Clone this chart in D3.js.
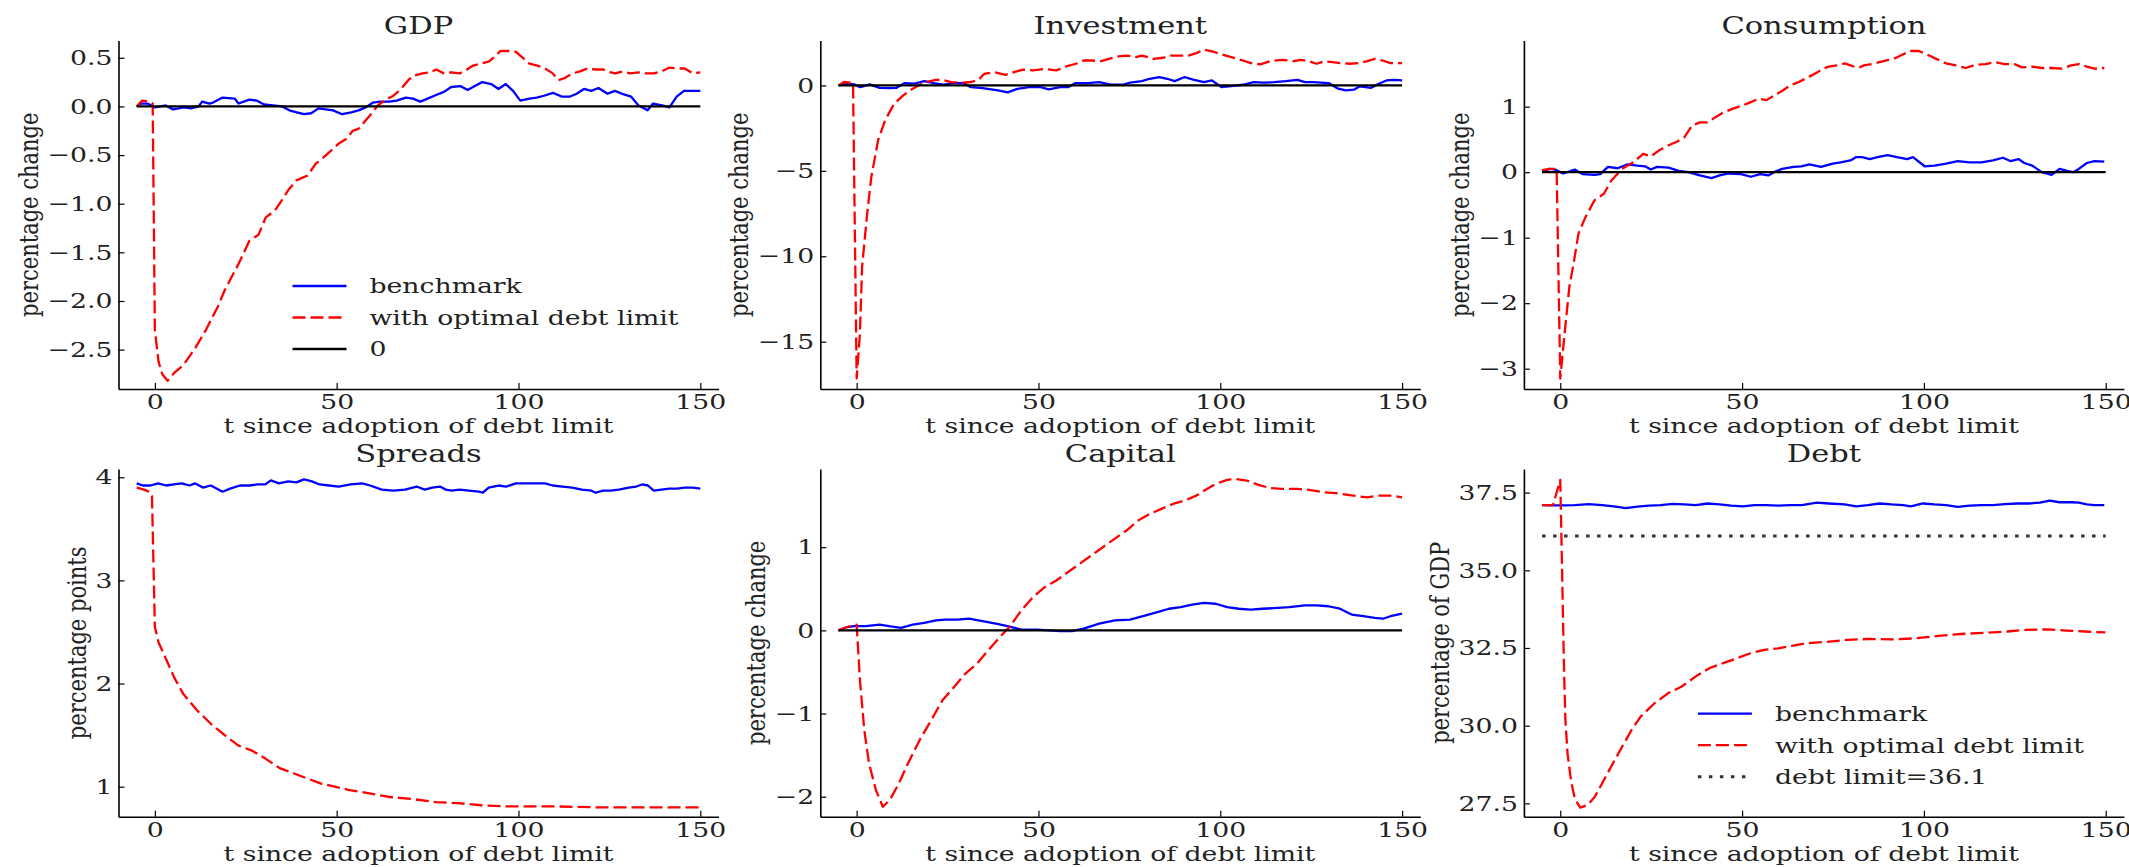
<!DOCTYPE html>
<html>
<head>
<meta charset="utf-8">
<title>Debt limit impulse responses</title>
<script src="https://cdn.jsdelivr.net/npm/d3@7"></script>
<style>
  body { margin: 0; background: #fff; }
  svg { display: block; }
</style>
</head>
<body>
<div id="chart"></div>
<script>
// values, as [t, value]
const xTicks = [0, 50, 100, 150];
const tSpan = [-5, 150];
const debtLimit = 36.1;

const gdpBenchmark = [[-5,0],[-4,0.03],[-2,0.03],[0,-0.01],[3,0.01],[5,-0.03],[8,-0.01],[10,-0.02],[12,0],[13,0.05],[15,0.03],[16,0.04],[18.5,0.09],[22,0.08],[23,0.03],[26,0.07],[28,0.06],[30,0.02],[32.5,0.01],[35,0],[37,-0.04],[39,-0.06],[41,-0.08],[43,-0.07],[45,-0.02],[47,-0.03],[49,-0.04],[51.5,-0.08],[54,-0.06],[56,-0.04],[58,-0.01],[60,0.04],[62,0.05],[64.5,0.05],[66.5,0.06],[69,0.09],[71,0.08],[73,0.05],[75,0.08],[77.5,0.12],[79.5,0.15],[81.5,0.2],[84,0.21],[86,0.17],[88,0.21],[90,0.25],[92.5,0.23],[94.5,0.18],[96.5,0.23],[98.5,0.16],[100.5,0.06],[103,0.08],[105,0.09],[107,0.11],[109.5,0.14],[112,0.1],[114,0.1],[116,0.13],[118,0.18],[120,0.16],[122,0.19],[124.5,0.13],[126.5,0.16],[128.5,0.13],[131,0.1],[133,0.01],[135.5,-0.04],[137,0.03],[139.5,0.01],[141.5,-0.01],[143.5,0.1],[145.5,0.16],[150,0.16]];
const gdpOptimal = [[-5,0],[-3.5,0.06],[-1.5,0.05],[-0.6,0.03],[0,-2.3],[1,-2.62],[2,-2.75],[3.5,-2.82],[5.3,-2.74],[7.8,-2.66],[11,-2.49],[14,-2.3],[17.3,-2.06],[19.2,-1.89],[23,-1.62],[26,-1.38],[28.5,-1.32],[30.5,-1.14],[33,-1.07],[35,-0.96],[36.7,-0.86],[38.9,-0.76],[42,-0.71],[44.2,-0.59],[47.4,-0.49],[50.6,-0.38],[52.8,-0.33],[54.4,-0.25],[56,-0.23],[57.6,-0.16],[59.2,-0.09],[61.3,0.01],[63.5,0.07],[65.6,0.11],[67.7,0.18],[69.9,0.28],[71.5,0.32],[73.6,0.34],[75.7,0.35],[77.4,0.38],[79.5,0.34],[81.6,0.35],[83.8,0.34],[85.4,0.37],[87.5,0.42],[89.6,0.44],[91.8,0.46],[93.4,0.51],[95,0.57],[97.7,0.57],[99.3,0.56],[100.9,0.51],[103,0.44],[105.2,0.42],[107.3,0.39],[109.4,0.34],[111,0.27],[112.6,0.29],[114.8,0.34],[116.9,0.36],[119,0.39],[121.2,0.38],[123.3,0.38],[125.4,0.35],[126.5,0.34],[128.6,0.36],[130.8,0.34],[132.9,0.35],[135,0.34],[137.2,0.34],[139.3,0.36],[141.5,0.4],[143.6,0.39],[145.7,0.39],[147.9,0.34],[150,0.35]];

const investmentBenchmark = [[-5,0],[-2.8,0.1],[-0.7,0.06],[1,-0.1],[3.6,0.06],[6.3,-0.14],[9,-0.16],[11,-0.14],[13.2,0.14],[15.9,0.1],[18.6,0.25],[21.2,0.14],[23.9,0.04],[26.6,0.14],[29.3,0.14],[31.4,-0.1],[34.6,-0.16],[38.9,-0.29],[41.5,-0.41],[44.2,-0.2],[47.4,-0.1],[50.6,-0.1],[52.8,-0.23],[56,-0.1],[58.1,-0.1],[60.2,0.14],[63.5,0.14],[66.7,0.19],[69.9,0.04],[73.1,0.04],[75.2,0.16],[78.4,0.25],[80.6,0.39],[83.2,0.49],[85.4,0.39],[87.5,0.25],[90.2,0.49],[92.8,0.33],[95.5,0.19],[97.7,0.29],[100.3,-0.1],[103,-0.04],[106.2,0.04],[109.2,0.19],[111.9,0.16],[114.8,0.19],[118,0.25],[121.2,0.33],[123.3,0.19],[125.4,0.19],[127.6,0.16],[129.8,0.14],[132.4,-0.19],[134.5,-0.29],[136.7,-0.25],[138.3,-0.06],[141.5,-0.14],[143.6,0.1],[145.7,0.29],[147.9,0.33],[150,0.29]];
const investmentOptimal = [[-5,0],[-3.5,0.2],[-1,0.14],[0,-17.15],[0.9,-14.5],[1.5,-10.6],[2.8,-7.7],[4,-5.4],[5.9,-3.2],[7.8,-2.05],[10.3,-1.07],[12.8,-0.58],[15.4,-0.19],[17.9,0.1],[19,0.19],[21.8,0.33],[23.5,0.33],[26,0.19],[29.3,0.16],[31.5,0.2],[33.5,0.33],[35.1,0.68],[37.8,0.78],[41,0.62],[43.2,0.78],[45.8,0.92],[48.5,0.88],[51.7,0.97],[54.9,0.88],[57.6,1.11],[60.3,1.27],[62.4,1.46],[64.5,1.46],[67.2,1.42],[69.4,1.56],[72,1.7],[74.2,1.75],[76.8,1.66],[78.4,1.75],[81.6,1.56],[84.3,1.62],[86.4,1.75],[89.1,1.75],[91.2,1.75],[93.4,1.89],[95.5,2.09],[97.7,2],[99.8,1.85],[103,1.66],[106.2,1.46],[108.4,1.31],[111,1.23],[113.7,1.42],[116.9,1.5],[120.1,1.42],[122.2,1.5],[124.4,1.42],[126.5,1.27],[128.6,1.42],[130.8,1.36],[133,1.31],[135.6,1.27],[138.3,1.31],[140.4,1.42],[142.5,1.56],[144.6,1.46],[146.8,1.31],[150,1.31]];

const consumptionBenchmark = [[-5,0],[-3,0.05],[-1.4,0.04],[0.8,-0.02],[4,0.04],[6.1,-0.03],[9.4,-0.04],[11,-0.03],[13.1,0.08],[15.8,0.06],[18.5,0.12],[21.2,0.1],[23.3,0.09],[24.9,0.04],[26.6,0.08],[29.8,0.07],[32.5,0.02],[35.2,0],[38.4,-0.05],[41.6,-0.09],[43.8,-0.05],[46.4,-0.02],[49.7,-0.03],[52.4,-0.07],[55,-0.03],[57.2,-0.05],[58.8,0],[61,0.05],[64.2,0.08],[66.3,0.09],[68.5,0.12],[71.7,0.08],[74.9,0.13],[77.1,0.15],[79.8,0.18],[81.4,0.23],[83,0.23],[85.1,0.2],[87.3,0.23],[90,0.26],[92.6,0.23],[95.4,0.2],[97,0.23],[100.2,0.09],[102.9,0.1],[106.1,0.13],[109.3,0.17],[112.6,0.15],[115.8,0.15],[119,0.18],[121.7,0.22],[123.8,0.17],[126,0.2],[127.6,0.14],[129.8,0.1],[132.4,0],[135.1,-0.04],[137.3,0.05],[139.4,0.02],[141,0],[142.6,0.05],[144.8,0.14],[146.9,0.17],[149.6,0.16]];
const consumptionOptimal = [[-5,0.03],[-2.9,0.05],[-1,0.05],[0,-3.15],[1.2,-2.46],[2.5,-1.75],[3.8,-1.35],[5,-0.94],[6.9,-0.69],[9.4,-0.43],[12,-0.33],[14,-0.13],[17,0.05],[20.1,0.15],[22.8,0.28],[24.9,0.24],[27.1,0.33],[29.8,0.41],[31.9,0.46],[34.1,0.53],[36.2,0.71],[38.4,0.76],[40.5,0.76],[42.7,0.84],[44.8,0.91],[47.5,0.97],[50.2,1.02],[52.4,1.07],[54.5,1.12],[56.7,1.1],[58.8,1.17],[61,1.24],[63.1,1.32],[65.3,1.37],[67.9,1.44],[70.6,1.52],[72.2,1.58],[73.9,1.61],[76,1.63],[78.2,1.66],[79.8,1.63],[81.9,1.59],[83.5,1.63],[85.7,1.65],[87.8,1.68],[90,1.71],[92.1,1.74],[94.3,1.8],[96.4,1.85],[98.6,1.85],[100.7,1.8],[103.4,1.73],[106.1,1.66],[108.8,1.63],[111.5,1.59],[114.2,1.64],[116.9,1.65],[119.5,1.68],[122.2,1.65],[124.9,1.65],[127,1.6],[129.8,1.61],[132.4,1.59],[135.1,1.59],[137.8,1.58],[140.5,1.63],[142.6,1.65],[144.8,1.61],[146.9,1.58],[149.6,1.59]];

const spreadsBenchmark = [[-5,3.94],[-3.3,3.92],[-1.2,3.92],[0.9,3.94],[3.1,3.92],[5.2,3.93],[7.4,3.94],[9.5,3.92],[11.1,3.94],[13.2,3.9],[15.4,3.92],[18.6,3.86],[20.7,3.89],[23.4,3.92],[26.1,3.92],[28.2,3.93],[30.3,3.93],[31.9,3.97],[34.1,3.94],[36.7,3.96],[38.9,3.95],[41,3.98],[43.2,3.96],[45.3,3.93],[47.9,3.92],[50.6,3.91],[53.8,3.93],[57,3.94],[59.2,3.92],[62.4,3.88],[65.6,3.87],[68.8,3.88],[72,3.91],[74.2,3.88],[76.3,3.9],[78.4,3.91],[80,3.88],[81.6,3.87],[83.8,3.88],[86.4,3.87],[89.1,3.86],[90.2,3.85],[91.8,3.9],[94.5,3.92],[96.6,3.91],[99.3,3.94],[101.9,3.94],[105.1,3.94],[107.3,3.94],[109.4,3.92],[112.1,3.91],[114.8,3.9],[117.4,3.88],[120.1,3.87],[121.2,3.85],[123.3,3.87],[125.4,3.87],[127.6,3.88],[130.3,3.9],[132.4,3.91],[134,3.93],[135.6,3.92],[137.2,3.87],[139.3,3.88],[141.5,3.89],[143.6,3.89],[145.7,3.9],[147.9,3.9],[150,3.89]];
const spreadsOptimal = [[-5,3.9],[-3,3.88],[-1.5,3.86],[-0.8,3.82],[0,2.55],[1,2.4],[2.8,2.26],[5.3,2.06],[7.8,1.9],[11.6,1.74],[15.4,1.61],[19.2,1.5],[22.9,1.4],[26.7,1.35],[30.5,1.27],[34.3,1.18],[38.1,1.13],[41.9,1.08],[45.7,1.03],[49.4,1],[53.2,0.97],[58.2,0.94],[64.6,0.9],[70.9,0.88],[77.2,0.85],[83.5,0.84],[89.8,0.82],[96.1,0.81],[108.7,0.81],[121.3,0.8],[135,0.8],[150,0.8]];

const capitalBenchmark = [[-5,0],[-2.6,0.04],[-0.7,0.05],[2.5,0.05],[6.3,0.07],[8.9,0.05],[12.2,0.03],[15.4,0.07],[18.6,0.09],[21.8,0.12],[24.4,0.13],[27.7,0.13],[30.9,0.14],[34.6,0.11],[38.3,0.08],[41.5,0.05],[45.3,0.01],[49.6,0.01],[52.8,0],[56,-0.01],[59.2,-0.01],[62.4,0.02],[66.7,0.08],[71,0.12],[75.2,0.13],[79.5,0.18],[82.7,0.22],[85.9,0.26],[89.1,0.28],[92.3,0.31],[95.5,0.33],[98.7,0.32],[101.9,0.28],[105.1,0.26],[108.4,0.25],[111.6,0.26],[115.8,0.27],[119,0.28],[123.3,0.3],[126.5,0.3],[129.7,0.29],[132.9,0.26],[136.1,0.19],[139.3,0.17],[142.5,0.15],[144.7,0.14],[146.8,0.17],[150,0.2]];
const capitalOptimal = [[-5,0],[-2.6,0.04],[0,0.07],[0.9,-0.6],[2.1,-1.2],[3.4,-1.6],[5.3,-1.92],[7.2,-2.12],[9.1,-2.04],[11.6,-1.84],[14.1,-1.6],[17.3,-1.32],[20.5,-1.08],[23.6,-0.84],[26.8,-0.68],[29.9,-0.52],[33.1,-0.4],[36.2,-0.24],[39.4,-0.08],[42,0.04],[45.3,0.24],[48.5,0.4],[51.7,0.52],[54.9,0.6],[58.1,0.7],[61.3,0.8],[64.5,0.9],[67.7,1],[70.9,1.1],[74.2,1.2],[77.4,1.32],[80.6,1.4],[83.8,1.46],[87,1.52],[90.2,1.56],[93.4,1.62],[95.5,1.68],[98.7,1.76],[101.9,1.81],[104,1.82],[107.3,1.8],[110.5,1.75],[113.7,1.71],[116.9,1.7],[121.2,1.7],[124.4,1.69],[128.6,1.66],[131.8,1.65],[135,1.63],[138.3,1.61],[140.4,1.6],[143.6,1.62],[146.8,1.62],[150,1.6]];

const debtBenchmark = [[-5,37.1],[-2.5,37.09],[0.8,37.09],[4,37.1],[7.8,37.13],[11.5,37.1],[14.7,37.06],[18,37],[21.2,37.05],[24.4,37.08],[27.6,37.1],[30.9,37.14],[34.1,37.12],[37.3,37.1],[40.5,37.15],[43.8,37.12],[47,37.08],[50.2,37.06],[53.4,37.1],[56.7,37.1],[59.9,37.08],[63.1,37.1],[66.4,37.1],[70.6,37.18],[73.9,37.15],[78.2,37.12],[81.4,37.06],[84.6,37.1],[87.8,37.15],[91.1,37.12],[94.3,37.1],[96.4,37.06],[99.7,37.15],[102.9,37.12],[106.1,37.1],[109.3,37.04],[112.6,37.08],[115.8,37.1],[119,37.1],[122.2,37.13],[125.5,37.15],[128.7,37.15],[131.9,37.18],[134.6,37.24],[137.3,37.19],[140.5,37.19],[142.6,37.18],[144.8,37.12],[146.9,37.1],[149.6,37.1]];
const debtOptimal = [[-5,37.1],[-2,37.1],[0,37.91],[0.5,35],[1,32],[1.4,30.2],[2,29.1],[3,28.2],[4,27.65],[5.5,27.36],[7.6,27.45],[9.5,27.71],[12,28.25],[14.5,28.79],[17,29.32],[19.6,29.86],[22.1,30.29],[25.9,30.72],[29.6,31.04],[33.4,31.26],[37.2,31.58],[41,31.85],[44.8,32.01],[48.6,32.17],[52.3,32.33],[56.1,32.44],[59.9,32.49],[63.7,32.57],[67.4,32.65],[72.5,32.69],[78.8,32.76],[85.1,32.79],[91.4,32.78],[97.7,32.81],[104,32.89],[110.3,32.95],[116.6,32.99],[122.9,33.03],[127.9,33.08],[134.2,33.1],[139.2,33.06],[144.3,33.03],[149.9,33]];

const gdpTicks = [0.5, 0, -0.5, -1, -1.5, -2, -2.5];
const investmentTicks = [0, -5, -10, -15];
const consumptionTicks = [1, 0, -1, -2, -3];
const spreadsTicks = [1, 2, 3, 4];
const capitalTicks = [1, 0, -1, -2];
const debtTicks = [27.5, 30, 32.5, 35, 37.5];

const legendGdp = ["benchmark", "with optimal debt limit", "0"];
const legendDebt = ["benchmark", "with optimal debt limit", "debt limit=36.1"];

// ---- styling ----
const FONT = "'DejaVu Serif', serif";
const SX = 1.27; // the source figure is stretched sideways, text included
const STYLE = {
    benchmark: { stroke: "#0000ff", dash: null, width: 2.3 },
    optimal: { stroke: "#ff0000", dash: "13,5", width: 2.3 },
    zero: { stroke: "#000000", dash: null, width: 2.3 },
    limit: { stroke: "#333333", dash: "3.5,7.5", width: 3 },
};

const svg = d3.select("#chart")
    .append("svg")
    .attr("width", 2129)
    .attr("height", 867);

class IrfPanel {
    constructor(_config) {
        this.config = {
            left: _config.left,
            top: _config.top,
            width: _config.width || 600,
            height: _config.height || 348,
            title: _config.title,
            yLabel: _config.yLabel,
            yDomain: _config.yDomain,
            yTicks: _config.yTicks,
            yFormat: _config.yFormat || d3.format("d"),
            series: _config.series,
            legend: _config.legend || null,
        };
        this.initVis();
    }

    initVis() {
        let vis = this;
        const c = vis.config;

        vis.g = svg.append("g").attr("transform", `translate(${c.left},${c.top})`);
        vis.xScale = d3.scaleLinear().domain([-10, 155]).range([0, c.width]);
        vis.yScale = d3.scaleLinear().domain(c.yDomain).range([c.height, 0]);

        vis.yAxisGroup = vis.g.append("g")
            .call(d3.axisLeft(vis.yScale).tickValues(c.yTicks).tickFormat(c.yFormat)
                .tickSizeInner(-6).tickSizeOuter(0).tickPadding(6));
        vis.xAxisGroup = vis.g.append("g")
            .attr("transform", `translate(0,${c.height})`)
            .call(d3.axisBottom(vis.xScale).tickValues(xTicks).tickFormat(d3.format("d"))
                .tickSizeInner(-6).tickSizeOuter(0).tickPadding(5));

        [vis.yAxisGroup, vis.xAxisGroup].forEach((ax) => {
            ax.attr("font-family", FONT).attr("font-size", 21);
            ax.select(".domain").attr("stroke", "#000").attr("stroke-width", 1.6);
            ax.selectAll(".tick line").attr("stroke", "#000").attr("stroke-width", 1.2);
            ax.selectAll(".tick text").attr("fill", "#222");
        });
        vis.yAxisGroup.selectAll(".tick text")
            .attr("x", -6 / SX)
            .attr("transform", `scale(${SX},1)`);
        vis.xAxisGroup.selectAll(".tick text")
            .attr("transform", `scale(${SX},1)`);

        const line = d3.line()
            .x((d) => vis.xScale(d[0]))
            .y((d) => vis.yScale(d[1]));

        c.series.forEach((s) => {
            const st = STYLE[s.style];
            vis.g.append("path")
                .datum(s.data)
                .attr("fill", "none")
                .attr("stroke", st.stroke)
                .attr("stroke-width", st.width)
                .attr("stroke-dasharray", st.dash)
                .attr("stroke-linejoin", "round")
                .attr("d", line);
        });

        vis.g.append("text")
            .attr("transform", `translate(${c.width / 2},-7) scale(${SX},1)`)
            .attr("text-anchor", "middle")
            .attr("font-family", FONT)
            .attr("font-size", 24)
            .attr("fill", "#222")
            .text(c.title);

        vis.g.append("text")
            .attr("transform", `translate(${c.width / 2},${c.height + 44}) scale(${SX},1)`)
            .attr("text-anchor", "middle")
            .attr("font-family", FONT)
            .attr("font-size", 21)
            .attr("fill", "#222")
            .text("t since adoption of debt limit");

        const bb = vis.yAxisGroup.node().getBBox();
        vis.g.append("text")
            .attr("transform", `translate(${bb.x - 10},${c.height / 2}) scale(${SX},1) rotate(-90)`)
            .attr("text-anchor", "middle")
            .attr("font-family", FONT)
            .attr("font-size", 21)
            .attr("fill", "#222")
            .text(c.yLabel);

        if (c.legend) vis.renderLegend();
    }

    renderLegend() {
        let vis = this;
        const c = vis.config;
        const rows = vis.g.selectAll(".legend-row")
            .data(c.legend)
            .enter()
            .append("g")
            .attr("class", "legend-row")
            .attr("transform", (d, i) => `translate(174,${c.height - 103 + i * 31.5})`);

        rows.append("line")
            .attr("x1", 0)
            .attr("x2", 54)
            .attr("stroke", (d) => STYLE[d.style].stroke)
            .attr("stroke-width", (d) => STYLE[d.style].width)
            .attr("stroke-dasharray", (d) => STYLE[d.style].dash);

        rows.append("text")
            .attr("transform", `translate(77,0) scale(${SX},1)`)
            .attr("dy", "0.35em")
            .attr("font-family", FONT)
            .attr("font-size", 21)
            .attr("fill", "#222")
            .text((d) => d.label);
    }
}

const zeroLine = tSpan.map((t) => [t, 0]);
const limitLine = tSpan.map((t) => [t, debtLimit]);
const cols = [118.5, 820.3, 1523.9];
const tops = [40.5, 469];
const heights = [348.5, 347.7];
const oneDecimal = d3.format(".1f");

new IrfPanel({
    left: cols[0], top: tops[0], height: heights[0],
    title: "GDP", yLabel: "percentage change",
    yDomain: [-2.905, 0.678], yTicks: gdpTicks, yFormat: oneDecimal,
    series: [
        { data: gdpBenchmark, style: "benchmark" },
        { data: gdpOptimal, style: "optimal" },
        { data: zeroLine, style: "zero" },
    ],
    legend: legendGdp.map((label, i) => ({ label, style: ["benchmark", "optimal", "zero"][i] })),
});

new IrfPanel({
    left: cols[1], top: tops[0], height: heights[0],
    title: "Investment", yLabel: "percentage change",
    yDomain: [-17.77, 2.63], yTicks: investmentTicks,
    series: [
        { data: investmentBenchmark, style: "benchmark" },
        { data: investmentOptimal, style: "optimal" },
        { data: zeroLine, style: "zero" },
    ],
});

new IrfPanel({
    left: cols[2], top: tops[0], height: heights[0],
    title: "Consumption", yLabel: "percentage change",
    yDomain: [-3.31, 2.01], yTicks: consumptionTicks,
    series: [
        { data: consumptionBenchmark, style: "benchmark" },
        { data: consumptionOptimal, style: "optimal" },
        { data: zeroLine, style: "zero" },
    ],
});

new IrfPanel({
    left: cols[0], top: tops[1], height: heights[1],
    title: "Spreads", yLabel: "percentage points",
    yDomain: [0.709, 4.08], yTicks: spreadsTicks,
    series: [
        { data: spreadsBenchmark, style: "benchmark" },
        { data: spreadsOptimal, style: "optimal" },
    ],
});

new IrfPanel({
    left: cols[1], top: tops[1], height: heights[1],
    title: "Capital", yLabel: "percentage change",
    yDomain: [-2.24, 1.94], yTicks: capitalTicks,
    series: [
        { data: capitalBenchmark, style: "benchmark" },
        { data: capitalOptimal, style: "optimal" },
        { data: zeroLine, style: "zero" },
    ],
});

new IrfPanel({
    left: cols[2], top: tops[1], height: heights[1],
    title: "Debt", yLabel: "percentage of GDP",
    yDomain: [27.07, 38.26], yTicks: debtTicks, yFormat: oneDecimal,
    series: [
        { data: debtBenchmark, style: "benchmark" },
        { data: debtOptimal, style: "optimal" },
        { data: limitLine, style: "limit" },
    ],
    legend: legendDebt.map((label, i) => ({ label, style: ["benchmark", "optimal", "limit"][i] })),
});
</script>
</body>
</html>
